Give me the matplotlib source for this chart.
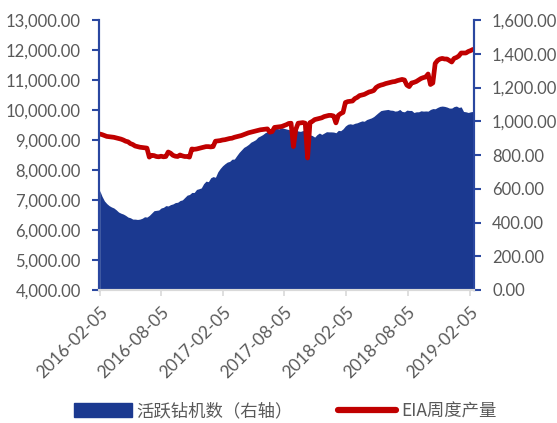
import matplotlib
matplotlib.use("Agg")
import matplotlib.pyplot as plt
from matplotlib.patches import Patch
from matplotlib.lines import Line2D
import pandas as pd

# weekly dates (Fridays) 2016-02-05 .. 2019-02-15
dates = pd.date_range("2016-02-05", "2019-02-15", freq="W-FRI")

# active rig count (right axis)
rigs = [
    # 2016
    590, 555, 528, 512,
    500, 492, 486, 475,
    462, 455, 450, 442, 432,
    428, 420, 420, 418,
    420, 425, 434, 432,
    442, 456, 470, 472, 474,
    486, 490, 500, 498,
    506, 510, 518, 520, 530,
    534, 548, 562, 566,
    578, 578, 596, 600,
    605, 630, 645, 642, 665,
    # 2017
    672, 668, 700, 720,
    736, 748, 758, 762,
    775, 776, 796, 815, 830,
    845, 853, 863, 876,
    883, 891, 906, 913,
    921, 932, 938, 946, 945,
    957, 957, 955, 962,
    958, 954, 951, 946,
    948, 949, 942, 940, 945,
    941, 934, 920, 915,
    906, 921, 930, 922,
    930, 938, 937, 937, 936,
    # 2018
    932, 946, 944, 955,
    972, 982, 985, 982,
    988, 991, 997, 1002, 1000,
    1010, 1015, 1020, 1028,
    1040, 1052, 1063, 1066,
    1068, 1070, 1066, 1065, 1060,
    1062, 1070, 1058, 1056,
    1066, 1064, 1064, 1052, 1056,
    1056, 1062, 1060, 1061,
    1060, 1070, 1075, 1074,
    1082, 1088, 1090, 1088, 1084,
    1078, 1078, 1087, 1090,
    # 2019
    1082, 1085, 1058, 1056,
    1052, 1056, 1058,
]

# EIA weekly crude production (left axis)
eia = [
    # 2016
    9200, 9180, 9150, 9120,
    9110, 9100, 9090, 9070,
    9050, 9030, 9000, 8960, 8940,
    8880, 8850, 8800, 8780,
    8760, 8750, 8740, 8730,
    8430, 8490, 8480, 8450, 8440,
    8460, 8440, 8450, 8600,
    8560, 8490, 8460, 8450, 8500,
    8470, 8450, 8450, 8430,
    8700, 8690, 8700, 8720,
    8740, 8760, 8780, 8780, 8770,
    # 2017
    8780, 8960, 8970, 8980,
    9000, 9010, 9030, 9050,
    9060, 9090, 9110, 9130, 9150,
    9180, 9210, 9240, 9260,
    9280, 9300, 9320, 9340,
    9350, 9360, 9370, 9260, 9280,
    9420, 9430, 9440, 9450,
    9480, 9510, 9550, 9560,
    8780, 9350, 9560, 9570, 9580,
    9560, 8400, 9580, 9620,
    9680, 9700, 9720, 9740,
    9780, 9800, 9820, 9820, 9800,
    # 2018
    9570, 9820, 9880, 9920,
    10250, 10280, 10290, 10300,
    10380, 10420, 10480, 10500, 10520,
    10560, 10600, 10620, 10650,
    10750, 10800, 10830, 10850,
    10880, 10900, 10920, 10940, 10950,
    10980, 11000, 11020, 11000,
    10830, 10780, 10900, 10920, 10950,
    11000, 11050, 11080, 11100,
    11200, 10850, 10900, 11550,
    11650, 11700, 11720, 11700, 11700,
    11650, 11600, 11720, 11750,
    # 2019
    11800, 11900, 11900, 11900,
    11950, 11980, 12020,
]

xtick_labels = ["2016-02-05", "2016-08-05", "2017-02-05", "2017-08-05",
                "2018-02-05", "2018-08-05", "2019-02-05"]
left_ticks = [4000, 5000, 6000, 7000, 8000, 9000, 10000, 11000, 12000, 13000]
right_ticks = [0, 200, 400, 600, 800, 1000, 1200, 1400, 1600]
legend_labels = ["活跃钻机数（右轴）", "EIA周度产量"]

BLUE = "#1B3990"
RED = "#C00000"
SPINE = "#2A47A0"
GREY = "#595959"
LIGHT = "#D9D9D9"

plt.rcParams["font.family"] = ["Lato", "DejaVu Sans"]

fig = plt.figure(figsize=(5.57, 4.23), dpi=100)
ax = fig.add_axes([99 / 557, 1 - 290 / 423, 375 / 557, 270 / 423])
ax2 = ax.twinx()

ax2.fill_between(dates, rigs, 0, color=BLUE, linewidth=0)
ax.plot(dates, eia, color=RED, linewidth=3.4, solid_capstyle="round",
        solid_joinstyle="round")

ax.set_zorder(ax2.get_zorder() + 1)
ax.patch.set_visible(False)

ax.set_ylim(4000, 13000)
ax2.set_ylim(0, 1600)
ax.set_yticks(left_ticks)
ax2.set_yticks(right_ticks)
ax.set_yticklabels([f"{v:,.2f}" for v in left_ticks])
ax2.set_yticklabels([f"{v:,.2f}" for v in right_ticks])

xt = pd.to_datetime(xtick_labels)
ax.set_xlim(pd.Timestamp("2016-02-03"), pd.Timestamp("2019-02-18"))
ax.set_xticks(xt)
ax.set_xticklabels(xtick_labels, rotation=45, ha="right", va="top",
                   rotation_mode="anchor")

for a in (ax, ax2):
    a.spines["top"].set_visible(False)
    a.spines["bottom"].set_color(LIGHT)
    a.spines["bottom"].set_linewidth(1.5)
    a.spines["left"].set_color(SPINE)
    a.spines["right"].set_color(SPINE)
    a.spines["left"].set_linewidth(1.5)
    a.spines["right"].set_linewidth(1.5)

ax.tick_params(axis="y", direction="out", length=5, width=1.5, color=SPINE,
               labelcolor=GREY, labelsize=12, pad=8)
ax2.tick_params(axis="y", direction="out", length=5, width=1.5, color=SPINE,
                labelcolor=GREY, labelsize=12, pad=8)
ax.tick_params(axis="x", direction="out", length=4, width=1.2, color=LIGHT,
               labelcolor=GREY, labelsize=12.5, pad=6)

handles = [
    Patch(facecolor=BLUE, edgecolor=BLUE),
    Line2D([0], [0], color=RED, linewidth=4.5, solid_capstyle="round"),
]
leg = fig.legend(handles, legend_labels, loc="center",
                 bbox_to_anchor=(0.512, 0.028), ncol=2, frameon=False,
                 prop={"family": ["Noto Sans CJK SC", "DejaVu Sans"],
                       "size": 12.5, "weight": "light"},
                 handlelength=3.3, handleheight=0.85, handletextpad=0.3,
                 columnspacing=2.6, labelcolor=GREY)

fig.savefig("out.png", dpi=100)
